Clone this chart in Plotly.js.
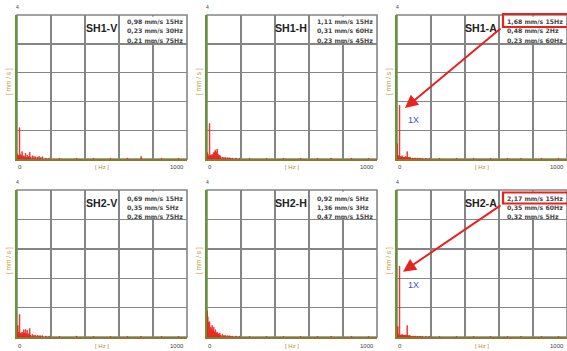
<!DOCTYPE html>
<html>
<head>
<meta charset="utf-8">
<script src="https://cdn.plot.ly/plotly-3.0.1.min.js"></script>
<style>html,body{margin:0;padding:0;background:#fff}#chart{width:567px;height:351px}</style>
</head>
<body>
<div id="chart"></div>
<script>
// Frequencies (Hz) of spectrum lines
const freqs = [1, 5, 10, 15, 20, 25, 30, 35, 40, 45, 50, 55, 60, 65, 70, 75, 80, 90, 100, 110, 120, 130, 140, 150, 170, 190, 250, 350, 450, 550, 650, 730, 850, 950];
// Amplitudes (mm/s) per measuring point
const sh1V = [0.15,0.10,0.12,0.98,0.14,0.10,0.23,0.08,0.10,0.06,0.18,0.05,0.12,0.05,0.08,0.21,0.06,0.10,0.08,0.07,0.06,0.08,0.05,0.07,0.03,0.03,0.02,0.02,0.02,0.02,0.03,0.08,0.02,0.02];
const sh1H = [0.20,0.15,0.10,1.11,0.12,0.10,0.15,0.12,0.20,0.23,0.28,0.20,0.31,0.15,0.10,0.12,0.08,0.06,0.05,0.05,0.04,0.04,0.03,0.03,0.03,0.02,0.02,0.02,0.02,0.02,0.02,0.02,0.02,0.02];
const sh1A = [0.48,0.12,0.10,1.68,0.08,0.06,0.10,0.05,0.06,0.05,0.08,0.06,0.23,0.05,0.04,0.06,0.04,0.03,0.03,0.03,0.03,0.02,0.02,0.02,0.02,0.02,0.02,0.02,0.02,0.02,0.02,0.02,0.02,0.02];
const sh2V = [0.25,0.35,0.15,0.69,0.12,0.10,0.15,0.10,0.22,0.12,0.23,0.10,0.20,0.08,0.10,0.26,0.06,0.08,0.06,0.05,0.05,0.04,0.04,0.04,0.03,0.03,0.02,0.03,0.02,0.02,0.02,0.02,0.02,0.02];
const sh2H = [0.80,0.62,0.45,0.47,0.30,0.25,0.35,0.20,0.30,0.15,0.22,0.12,0.15,0.10,0.08,0.12,0.06,0.08,0.05,0.05,0.04,0.04,0.03,0.03,0.03,0.02,0.02,0.02,0.02,0.02,0.02,0.02,0.02,0.02];
const sh2A = [0.15,0.32,0.08,2.17,0.06,0.05,0.08,0.05,0.06,0.05,0.06,0.05,0.35,0.04,0.04,0.05,0.03,0.03,0.03,0.03,0.02,0.02,0.02,0.02,0.02,0.02,0.02,0.02,0.02,0.02,0.02,0.02,0.02,0.02];

const panelNames = ["SH1-V","SH1-H","SH1-A","SH2-V","SH2-H","SH2-A"];
const panelData = [sh1V, sh1H, sh1A, sh2V, sh2H, sh2A];
const peakTexts = [
  ["0,98 mm/s 15Hz","0,23 mm/s 30Hz","0,21 mm/s 75Hz"],
  ["1,11 mm/s 15Hz","0,31 mm/s 60Hz","0,23 mm/s 45Hz"],
  ["1,68 mm/s 15Hz","0,48 mm/s 2Hz","0,23 mm/s 60Hz"],
  ["0,69 mm/s 15Hz","0,35 mm/s 5Hz","0,26 mm/s 75Hz"],
  ["0,92 mm/s 5Hz","1,36 mm/s 3Hz","0,47 mm/s 15Hz"],
  ["2,17 mm/s 15Hz","0,35 mm/s 60Hz","0,32 mm/s 5Hz"]
];
const xLabels = ["0","[ Hz ]","1000"];
const yLabel = "[ mm / s ]";
const yTopLabel = "4";
const xMax = 1000, yMax = 4.5;

const W = 567, H = 351;
const colsPx = [[17,187],[207,377],[397,567]];
const rowsPx = [[15,159],[190,337]];
const px = v => v / W;
const py = v => 1 - v / H;

const traces = [], layout = {
  width: W, height: H, margin:{l:0,r:0,t:0,b:0},
  paper_bgcolor:"#fff", plot_bgcolor:"#fff", showlegend:false, bargap:0,
  annotations:[], shapes:[]
};
const gridCol = "#858585";
const narrow = "Liberation Sans Narrow, Liberation Sans, Arial";
const valFont = "DejaVu Sans";

for (let i = 0; i < 6; i++) {
  const r = Math.floor(i/3), c = i % 3;
  const n = i + 1;
  const xa = "xaxis" + (n===1?"":n), ya = "yaxis" + (n===1?"":n);
  const xr = "x" + (n===1?"":n), yr = "y" + (n===1?"":n);
  const [x0,x1] = colsPx[c], [y0,y1] = rowsPx[r];
  const tOff = r===0 ? 6 : 8, tStep = r===0 ? 9.5 : 9;
  layout[xa] = {domain:[px(x0), Math.min(1,px(x1))], range:[0,xMax], anchor:yr,
    showgrid:true, gridcolor:gridCol, gridwidth:1.4, tick0:0, dtick:200,
    showticklabels:false, ticks:"", zeroline:false,
    showline:true, linecolor:"#8a7a2a", linewidth:2, fixedrange:true};
  layout[ya] = {domain:[py(y1), py(y0)], range:[0,yMax], anchor:xr,
    showgrid:true, gridcolor:gridCol, gridwidth:1.4, tick0:0, dtick:0.9,
    showticklabels:false, ticks:"", zeroline:false,
    showline:true, linecolor:"#5f9a2a", linewidth:2, fixedrange:true};
  // frame (top & right)
  layout.shapes.push({type:"rect", xref:"paper", yref:"paper", x0:px(x0), x1:px(x1), y0:py(y1), y1:py(y0),
    line:{color:gridCol, width:1.6}, layer:"below"});
  // white label areas covering the grid
  layout.shapes.push({type:"rect", xref:"paper", yref:"paper", x0:px(x0+105), x1:px(Math.min(x1-1,566)), y0:py(y0+(r===0?27:28.3)), y1:py(y0+1.5),
    line:{width:0}, fillcolor:"#fff", layer:"above"});
  layout.shapes.push({type:"rect", xref:"paper", yref:"paper", x0:px(x0+69.5), x1:px(x0+101), y0:py(y0+21), y1:py(y0+5),
    line:{width:0}, fillcolor:"#fff", layer:"above"});
  traces.push({type:"bar", x:freqs, y:panelData[i], xaxis:xr, yaxis:yr,
    width:freqs.map(()=>4), marker:{color:"#e8231f", line:{color:"#e8231f", width:0.6}}, hoverinfo:"none"});
  // title
  layout.annotations.push({xref:"paper", yref:"paper", x:px(x0+84), y:py(y0+13), xanchor:"center", yanchor:"middle",
    text:"<b>"+panelNames[i]+"</b>", showarrow:false,
    font:{family:narrow, size:10.6, color:"#222"}});
  peakTexts[i].forEach((t, k) => {
    layout.annotations.push({xref:"paper", yref:"paper", x:px(x0+108), y:py(y0 + tOff + k*tStep), xanchor:"left", yanchor:"middle",
      text:"<b>"+t+"</b>", showarrow:false, font:{family:valFont, size:6.2, color:"#444"}});
  });
  // axis texts
  const by = r===0 ? 167 : 346;
  layout.annotations.push({xref:"paper", yref:"paper", x:px(x0+3), y:py(by), xanchor:"center", yanchor:"middle",
    text:xLabels[0], showarrow:false, font:{family:narrow, size:6, color:"#444"}});
  layout.annotations.push({xref:"paper", yref:"paper", x:px(x0+85), y:py(by), xanchor:"center", yanchor:"middle",
    text:xLabels[1], showarrow:false, font:{family:narrow, size:6, color:"#b08a30"}});
  layout.annotations.push({xref:"paper", yref:"paper", x:px(x0+160), y:py(by), xanchor:"center", yanchor:"middle",
    text:xLabels[2], showarrow:false, font:{family:narrow, size:6, color:"#444"}});
  layout.annotations.push({xref:"paper", yref:"paper", x:px(x0), y:py(y0-8), xanchor:"center", yanchor:"middle",
    text:yTopLabel, showarrow:false, font:{family:narrow, size:5, color:"#444"}});
  layout.annotations.push({xref:"paper", yref:"paper", x:px(x0-8), y:py(y0 + (r===0?67:71)), xanchor:"center", yanchor:"middle",
    text:yLabel, showarrow:false, textangle:-90, font:{family:narrow, size:6.5, color:"#c09a38"}});
}

// Highlight boxes and arrows to the 1X peak (axial measurements)
const hl = [{ax:"x3", ay:"y3", top:14, bot:27, head:[47,1.59], tail:[618,4.12], lab:[413,120]},
            {ax:"x6", ay:"y6", top:192.5, bot:203.5, head:[35,2.0], tail:[618,4.06], lab:[413,285]}];
hl.forEach(h => {
  layout.shapes.push({type:"rect", xref:"paper", yref:"paper", x0:px(503), x1:px(570), y0:py(h.bot), y1:py(h.top),
    line:{color:"#e8231f", width:2.2}, layer:"above"});
  layout.annotations.push({xref:h.ax, yref:h.ay, x:h.head[0], y:h.head[1], axref:h.ax, ayref:h.ay,
    ax:h.tail[0], ay:h.tail[1], text:"", showarrow:true, arrowcolor:"#e8231f", arrowwidth:2, arrowhead:2, arrowsize:1.3});
  layout.annotations.push({xref:"paper", yref:"paper", x:px(h.lab[0]), y:py(h.lab[1]), xanchor:"center", yanchor:"middle",
    text:"1X", showarrow:false, font:{family:"Liberation Sans, Arial", size:9, color:"#3d52d5"}});
});

Plotly.newPlot("chart", traces, layout, {staticPlot:true, displayModeBar:false});
</script>
</body>
</html>
